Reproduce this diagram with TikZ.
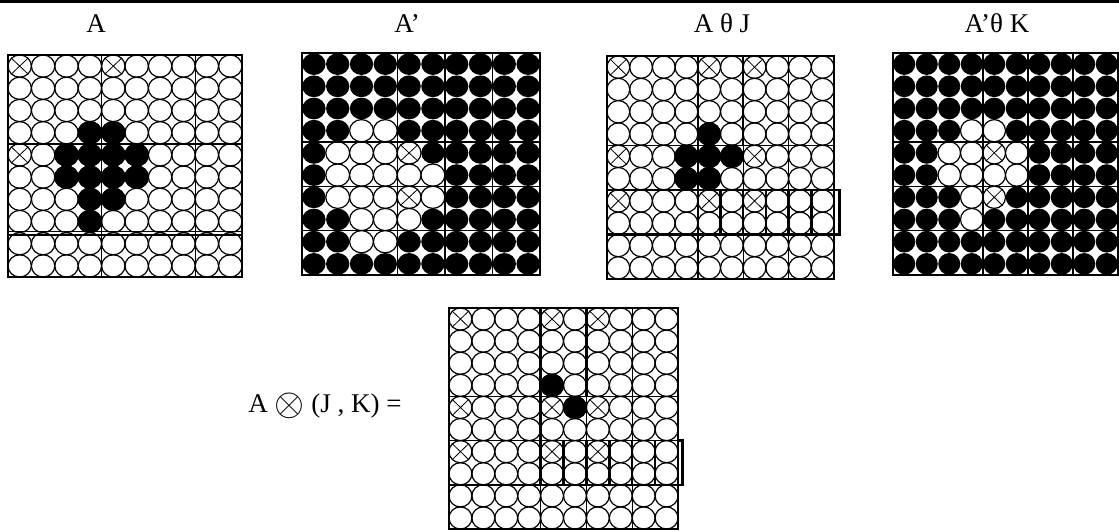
\documentclass[tikz,border=0pt]{standalone}
\usepackage{fontspec}
\setmainfont{Liberation Serif}

\begin{document}
\begin{tikzpicture}[
        x=1pt, y=-1pt,
        ring/.style={draw=black, line width=1.2pt},
        dot/.style={draw=black, fill=black, line width=1.2pt},
        ink/.style={fill=black},
        hole/.style={draw=black, fill=white, line width=1.2pt},
        cross/.style={draw=black, line width=0.8pt},
        rule/.style={draw=black, line width=1.4pt},
        heavy/.style={draw=black, line width=2.4pt},
        lbl/.style={font=\fontsize{27}{30}\selectfont, inner sep=0pt, anchor=base}
    ]
        \useasboundingbox (0,0) rectangle (1119,531);
        \fill (0,0) rectangle (1119,3);

        % Labels
        \node[lbl] (labA) at (96,32) {A};
        \node[lbl] (labAc) at (407,32) {A’};
        \node[lbl] (labAJ) at (722,32) {A θ J};
        \node[lbl] (labAcK) at (997,32) {A’θ K};
        \node[lbl] (labRes) at (325,412) {A \raisebox{-0.12em}{\scalebox{1.55}{$\otimes$}} (J , K) =};

        % A
        \begin{scope}[shift={(8,55)}, x=23.4pt, y=-22.2pt]
            \foreach \r in {1,...,10}
                \foreach \c in {1,...,10}
                    \draw[ring] (\c-0.5,\r-0.5) circle (0.5);
            \foreach \r/\c in {4/4,4/5,5/3,5/4,5/5,5/6,6/3,6/4,6/5,6/6,7/4,7/5,8/4}
                \draw[dot] (\c-0.5,\r-0.5) circle (0.5);
            \foreach \r/\c in {1/1,1/5,5/1}
                \draw[cross] (\c-0.87,\r-0.87) -- (\c-0.13,\r-0.13) (\c-0.87,\r-0.13) -- (\c-0.13,\r-0.87);
            \draw[rule] (0,0) rectangle (10,10) (4,0) -- (4,10) (8,0) -- (8,10)
                (0,4) -- (10,4) (0,7.94) -- (10,7.94) (0,8.1) -- (10,8.1);
        \end{scope}

        % A'
        \begin{scope}[shift={(302,53)}, x=23.8pt, y=-22.2pt]
            \foreach \r in {1,...,10}
                \foreach \c in {1,...,10}
                    \fill[ink] (\c-0.5,\r-0.5) circle (0.49);
            \foreach \r/\c in {4/3,4/4,5/2,5/3,5/4,5/5,6/2,6/3,6/4,6/5,6/6,7/2,7/3,7/4,7/5,7/6,8/3,8/4,8/5,9/3,9/4}
                \draw[hole] (\c-0.5,\r-0.5) circle (0.5);
            \foreach \r/\c in {5/5,7/5}
                \draw[cross] (\c-0.87,\r-0.87) -- (\c-0.13,\r-0.13) (\c-0.87,\r-0.13) -- (\c-0.13,\r-0.87);
            \draw[rule] (0,0) rectangle (10,10) (4,0) -- (4,10) (6,0) -- (6,10) (8,0) -- (8,10)
                (0,4) -- (10,4) (0,6) -- (10,6) (0,8) -- (10,8);
        \end{scope}

        % A theta J
        \begin{scope}[shift={(607,56)}, x=22.7pt, y=-22.3pt]
            \foreach \r in {1,...,10}
                \foreach \c in {1,...,10}
                    \draw[ring] (\c-0.5,\r-0.5) circle (0.5);
            \foreach \r/\c in {4/5,5/4,5/5,5/6,6/4,6/5}
                \draw[dot] (\c-0.5,\r-0.5) circle (0.5);
            \foreach \r/\c in {1/1,1/5,1/7,5/1,5/7,7/1,7/5,7/7}
                \draw[cross] (\c-0.87,\r-0.87) -- (\c-0.13,\r-0.13) (\c-0.87,\r-0.13) -- (\c-0.13,\r-0.87);
            \draw[rule] (0,0) rectangle (10,10) (4,0) -- (4,10) (6,0) -- (6,10) (8,0) -- (8,10)
                (0,4) -- (10,4) (0,6) -- (10,6) (0,8) -- (10,8);
            \draw[heavy] (4,0) -- (4,8) (6,0) -- (6,4) (0,8) -- (10.25,8) -- (10.25,6) -- (10,6);
            \foreach \c in {5,...,9}
                \draw[heavy] (\c,6) -- (\c,8);
        \end{scope}

        % A' theta K
        \begin{scope}[shift={(893,53)}, x=22.5pt, y=-22.2pt]
            \foreach \r in {1,...,10}
                \foreach \c in {1,...,10}
                    \fill[ink] (\c-0.5,\r-0.5) circle (0.49);
            \foreach \r/\c in {4/4,4/5,5/3,5/4,5/5,5/6,6/3,6/4,6/5,6/6,7/4,7/5,8/4}
                \draw[hole] (\c-0.5,\r-0.5) circle (0.5);
            \foreach \r/\c in {5/5,7/5}
                \draw[cross] (\c-0.87,\r-0.87) -- (\c-0.13,\r-0.13) (\c-0.87,\r-0.13) -- (\c-0.13,\r-0.87);
            \draw[rule] (0,0) rectangle (10,10) (4,0) -- (4,10) (6,0) -- (6,10) (8,0) -- (8,10)
                (0,4) -- (10,4) (0,6) -- (10,6) (0,8) -- (10,8);
        \end{scope}

        % A otimes (J,K)
        \begin{scope}[shift={(449,308)}, x=22.9pt, y=-22.1pt]
            \foreach \r in {1,...,10}
                \foreach \c in {1,...,10}
                    \draw[ring] (\c-0.5,\r-0.5) circle (0.5);
            \foreach \r/\c in {4/5,5/6}
                \draw[dot] (\c-0.5,\r-0.5) circle (0.5);
            \foreach \r/\c in {1/1,1/5,1/7,5/1,5/5,5/7,7/1,7/5,7/7}
                \draw[cross] (\c-0.87,\r-0.87) -- (\c-0.13,\r-0.13) (\c-0.87,\r-0.13) -- (\c-0.13,\r-0.87);
            \draw[rule] (0,0) rectangle (10,10) (4,0) -- (4,10) (6,0) -- (6,10) (8,0) -- (8,10)
                (0,4) -- (10,4) (0,6) -- (10,6) (0,8) -- (10,8);
            \draw[heavy] (4,0) -- (4,8) (6,0) -- (6,4) (0,8) -- (10.2,8) -- (10.2,6) -- (10,6);
            \foreach \c in {5,...,9}
                \draw[heavy] (\c,6) -- (\c,8);
        \end{scope}

    \end{tikzpicture}
\end{document}
